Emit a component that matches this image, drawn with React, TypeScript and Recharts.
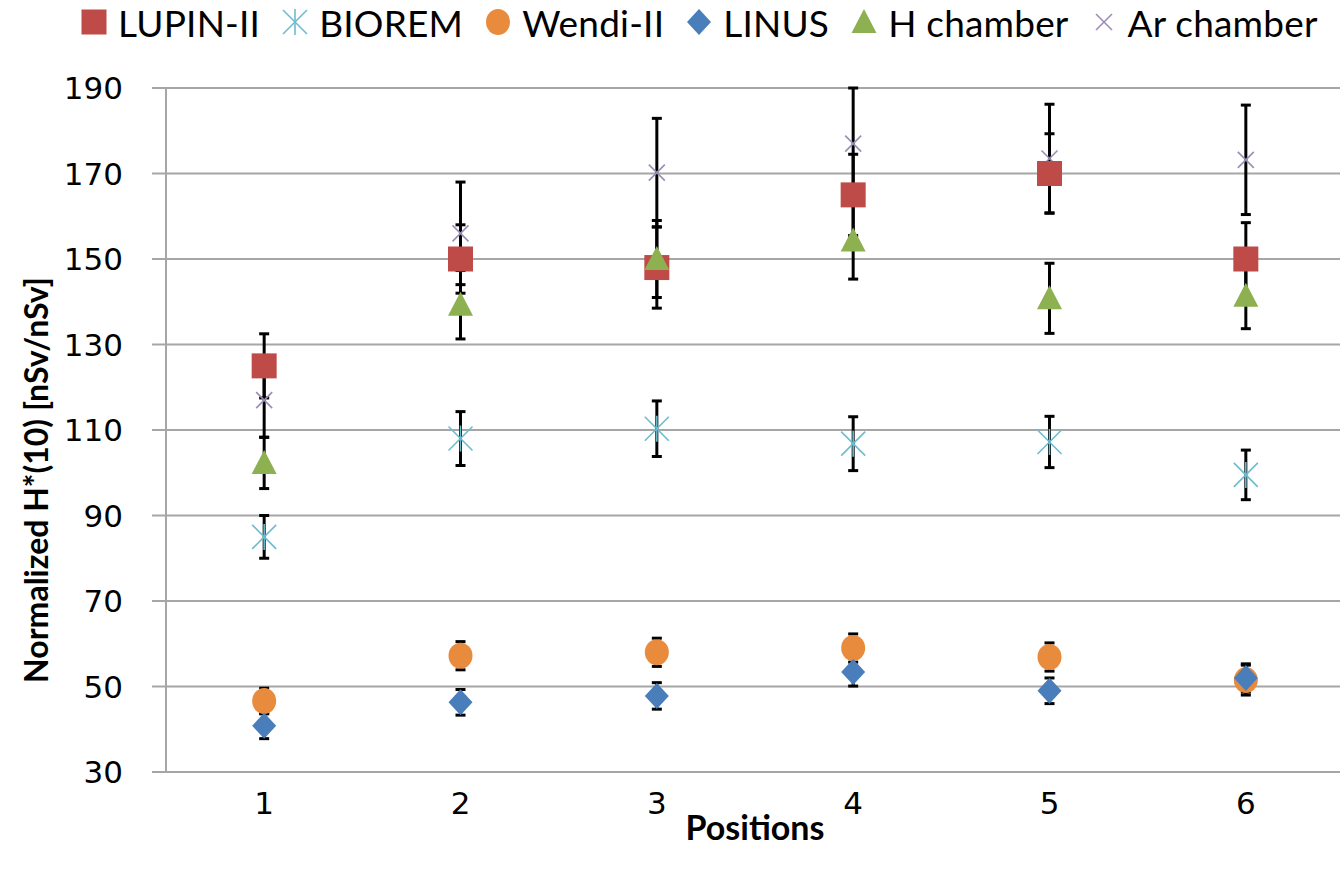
import { ScatterChart, Scatter, XAxis, YAxis, CartesianGrid, ErrorBar, Legend } from 'recharts'

const positions = [1, 2, 3, 4, 5, 6]
const yTicks = [30, 50, 70, 90, 110, 130, 150, 170, 190]

const lupin = [125, 150, 148, 165, 170, 150]
const lupinErr = [7.5, 8, 9.5, 9.5, 9.3, 8.5]
const biorem = [85, 108, 110.3, 106.8, 107.2, 99.5]
const bioremErr = [5, 6.3, 6.5, 6.3, 6, 5.8]
const wendi = [46.6, 57.2, 58, 59, 56.9, 51.5]
const wendiErr = [3, 3.3, 3.3, 3.3, 3.3, 3.5]
const linus = [40.8, 46.3, 47.8, 53.4, 49, 52]
const linusErr = [3, 3, 3.1, 3.3, 3, 3.3]
const hChamber = [102.3, 139.3, 150, 154.3, 140.8, 141.4]
const hChamberErr = [6, 8, 9, 9, 8.2, 7.7]
const arChamber = [117, 156, 170.2, 177, 173.5, 173.2]
const arChamberErr = [8.7, 12, 12.7, 13, 12.7, 12.8]

type MarkerKind = 'square' | 'star' | 'circle' | 'diamond' | 'triangle' | 'x'

const toPoints = (vals: number[], errs: number[]) =>
  positions.map((p, i) => ({ pos: p, value: vals[i], err: errs[i] }))

const series: { name: string; data: ReturnType<typeof toPoints>; color: string; kind: MarkerKind }[] = [
  { name: 'LUPIN-II', data: toPoints(lupin, lupinErr), color: '#be4b48', kind: 'square' },
  { name: 'BIOREM', data: toPoints(biorem, bioremErr), color: '#6cbccf', kind: 'star' },
  { name: 'Wendi-II', data: toPoints(wendi, wendiErr), color: '#e98b3d', kind: 'circle' },
  { name: 'LINUS', data: toPoints(linus, linusErr), color: '#4a7ebb', kind: 'diamond' },
  { name: 'H chamber', data: toPoints(hChamber, hChamberErr), color: '#8db050', kind: 'triangle' },
  { name: 'Ar chamber', data: toPoints(arChamber, arChamberErr), color: '#9a8db5', kind: 'x' },
]

// Ar chamber goes underneath so the other markers sit on top of it
const drawOrder = [series[5], ...series.slice(0, 5)]

const GRID = '#a6a6a6'

function Marker({ kind, cx, cy, color }: { kind: MarkerKind; cx: number; cy: number; color: string }) {
  switch (kind) {
    case 'square':
      return <rect x={cx - 12.5} y={cy - 12.5} width={25} height={25} fill={color} />
    case 'circle':
      return <ellipse cx={cx} cy={cy} rx={12} ry={13} fill={color} />
    case 'diamond':
      return <polygon points={`${cx},${cy - 13} ${cx + 12},${cy} ${cx},${cy + 13} ${cx - 12},${cy}`} fill={color} />
    case 'triangle':
      return <polygon points={`${cx},${cy - 13} ${cx + 12.5},${cy + 11} ${cx - 12.5},${cy + 11}`} fill={color} />
    case 'star':
      return (
        <g stroke={color} strokeWidth={1.6}>
          <line x1={cx - 12} y1={cy - 12} x2={cx + 12} y2={cy + 12} />
          <line x1={cx - 12} y1={cy + 12} x2={cx + 12} y2={cy - 12} />
          <line x1={cx} y1={cy - 13} x2={cx} y2={cy + 13} />
        </g>
      )
    default:
      return (
        <g stroke={color} strokeWidth={1.6}>
          <line x1={cx - 8} y1={cy - 8} x2={cx + 8} y2={cy + 8} />
          <line x1={cx - 8} y1={cy + 8} x2={cx + 8} y2={cy - 8} />
        </g>
      )
  }
}

const renderLegend = () => (
  <div style={{ height: 88, display: 'flex', alignItems: 'flex-start', paddingLeft: 80 }}>
    {series.map((s) => (
      <div key={s.name} style={{ display: 'flex', alignItems: 'center', marginRight: 21, height: 44 }}>
        <svg width={28} height={30}>
          <Marker kind={s.kind} cx={14} cy={15} color={s.color} />
        </svg>
        <span
          style={{ marginLeft: 10, fontFamily: 'Lato', fontSize: 37, letterSpacing: 0.2, color: '#000', whiteSpace: 'nowrap' }}
        >
          {s.name}
        </span>
      </div>
    ))}
  </div>
)

// rotated y-axis title, centred a little below the middle of the plot
const YTitle = ({ viewBox }: any) => {
  const x = 35
  const y = viewBox.y + viewBox.height / 2 + 50
  return (
    <text
      transform={`translate(${x}, ${y}) rotate(-90)`}
      textAnchor="middle"
      dominantBaseline="central"
      style={{ fontFamily: 'Lato', fontWeight: 700, fontSize: 32, fill: '#000' }}
    >
      Normalized H*(10) [nSv/nSv]
    </text>
  )
}

export default function App() {
  return (
    <div style={{ position: 'absolute', left: 0, top: 0, width: 1340, height: 873, overflow: 'hidden', background: '#fff' }}>
      <ScatterChart width={1350} height={873} margin={{ top: 0, right: 6, bottom: 0, left: 18 }}>
        <CartesianGrid vertical={false} stroke={GRID} strokeWidth={2} />
        <XAxis
          type="number"
          dataKey="pos"
          domain={[0.5, 6.5]}
          allowDataOverflow
          ticks={positions}
          interval={0}
          tickLine={false}
          tickSize={0}
          tickMargin={20}
          height={101}
          axisLine={{ stroke: GRID, strokeWidth: 2 }}
          tick={{ fontFamily: 'DejaVu Sans', fontSize: 31, fill: '#000' }}
          label={{
            value: 'Positions',
            position: 'insideBottom',
            offset: 33,
            style: { fontFamily: 'Lato', fontWeight: 700, fontSize: 34, fill: '#000' },
          }}
        />
        <YAxis
          type="number"
          dataKey="value"
          domain={[30, 190]}
          allowDataOverflow
          ticks={yTicks}
          interval={0}
          width={148}
          tickSize={14}
          tickMargin={29}
          axisLine={{ stroke: GRID, strokeWidth: 2 }}
          tickLine={{ stroke: GRID, strokeWidth: 2 }}
          tick={{ fontFamily: 'DejaVu Sans', fontSize: 31, fill: '#000' }}
          label={{ content: YTitle }}
        />
        <Legend verticalAlign="top" align="left" content={renderLegend} wrapperStyle={{ left: 0, top: 0, width: 1340 }} />
        {drawOrder.map((s) => (
          <Scatter
            key={s.name}
            name={s.name}
            data={s.data}
            fill={s.color}
            isAnimationActive={false}
            shape={(p: any) => <Marker kind={s.kind} cx={p.cx} cy={p.cy} color={s.color} />}
          >
            <ErrorBar dataKey="err" direction="y" width={5} strokeWidth={3} stroke="#000" />
          </Scatter>
        ))}
      </ScatterChart>
    </div>
  )
}
